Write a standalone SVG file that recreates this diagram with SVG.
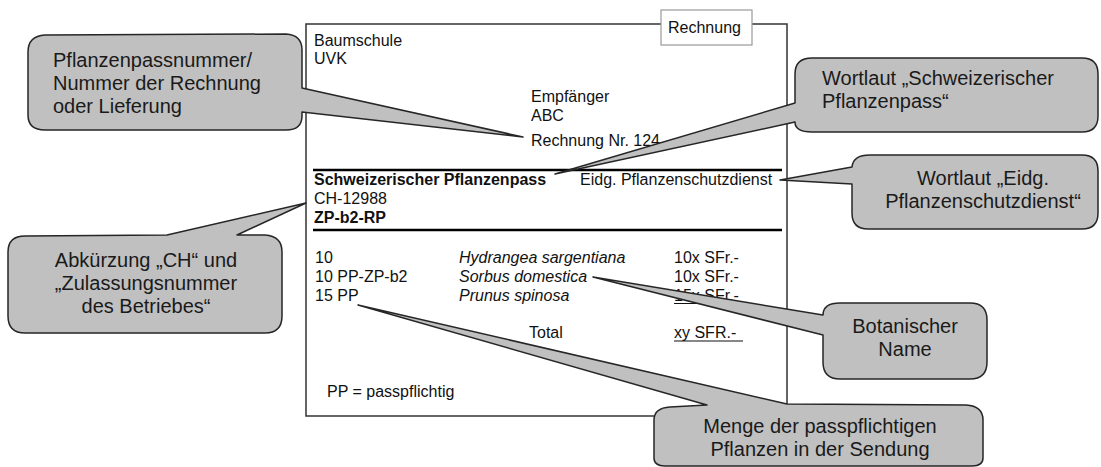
<svg xmlns="http://www.w3.org/2000/svg" width="1101" height="467" viewBox="0 0 1101 467">
<style>
text{font-family:"Liberation Sans",Arial,sans-serif;fill:#111}
.d{font-size:16px}
.b{font-weight:bold}
.i{font-style:italic}
.bt{font-size:20px;fill:#1a1a1a}
.c{text-anchor:middle}
.bub{fill:#c0c0c0;stroke:#262626;stroke-width:1.5;stroke-linejoin:round}
.rule{stroke:#000;stroke-width:2.5}
.ul{stroke:#111;stroke-width:1.2}
</style>
<rect width="1101" height="467" fill="#fff"/>
<g id="document">
<rect x="306" y="24" width="481" height="392" fill="#fff" stroke="#333" stroke-width="1.5"/>
<g id="label-rechnung">
<rect x="661" y="10" width="91" height="35" fill="#fff" stroke="#999" stroke-width="1.2"/>
<text class="d" x="668" y="33">Rechnung</text>
</g>
<text class="d" x="314" y="46">Baumschule</text>
<text class="d" x="314" y="64">UVK</text>
<text class="d" x="531" y="102">Empfänger</text>
<text class="d" x="531" y="121">ABC</text>
<text class="d" x="531" y="146">Rechnung Nr. 124</text>
<line class="rule" x1="313" y1="170" x2="782" y2="170"/>
<text class="d b" x="314" y="185">Schweizerischer Pflanzenpass</text>
<text class="d" x="580" y="185">Eidg. Pflanzenschutzdienst</text>
<text class="d" x="314" y="204">CH-12988</text>
<text class="d b" x="314" y="223">ZP-b2-RP</text>
<line class="rule" x1="313" y1="230" x2="782" y2="230"/>
<text class="d" x="315" y="263">10</text>
<text class="d" x="315" y="282">10 PP-ZP-b2</text>
<text class="d" x="315" y="301">15 PP</text>
<text class="d i" x="459" y="263">Hydrangea sargentiana</text>
<text class="d i" x="459" y="282">Sorbus domestica</text>
<text class="d i" x="459" y="301">Prunus spinosa</text>
<text class="d" x="674" y="263">10x SFr.-</text>
<text class="d" x="674" y="282">10x SFr.-</text>
<text class="d" x="674" y="301">15x SFr.-</text>
<line class="ul" x1="674" y1="303.5" x2="743" y2="303.5"/>
<text class="d" x="529" y="338">Total</text>
<text class="d" x="674" y="338">xy SFR.-</text>
<line class="ul" x1="674" y1="341" x2="743" y2="341"/>
<text class="d" x="327" y="397">PP = passpflichtig</text>
</g>
<g id="callout-passnummer">
<path class="bub" d="M45,35 L286,34 Q302,35 302,50 L302,88 L523,137 L302,112 L302,116 Q302,130 286,130 L45,130 Q28,130 28,115 L28,52 Q28,36 45,35 Z"/>
<text class="bt" x="53" y="67">Pflanzenpassnummer/</text>
<text class="bt" x="53" y="90">Nummer der Rechnung</text>
<text class="bt" x="53" y="113">oder Lieferung</text>
</g>
<g id="callout-wortlaut-pass">
<path class="bub" d="M812,58 L1082,58 Q1098,58 1098,74 L1098,116 Q1098,132 1082,132 L812,132 Q795,132 795,122 L555,174 L795,103 L795,74 Q795,58 812,58 Z"/>
<text class="bt" x="822" y="85">Wortlaut „Schweizerischer</text>
<text class="bt" x="822" y="108">Pflanzenpass“</text>
</g>
<g id="callout-wortlaut-eidg">
<path class="bub" d="M870,155 L1082,155 Q1098,155 1098,171 L1098,213 Q1098,229 1082,229 L868,229 Q852,229 852,213 L852,184 L780,180 L852,167 Q853,155 870,155 Z"/>
<text class="bt c" x="983" y="185">Wortlaut „Eidg.</text>
<text class="bt c" x="983" y="208">Pflanzenschutzdienst“</text>
</g>
<g id="callout-abkuerzung">
<path class="bub" d="M25,236 L167,235 L306,203 L237,235 L265,235 Q282,236 282,252 L282,316 Q282,333 265,333 L25,333 Q8,333 8,316 L8,252 Q8,236 25,236 Z"/>
<text class="bt c" x="146" y="267">Abkürzung „CH“ und</text>
<text class="bt c" x="146" y="290">„Zulassungsnummer</text>
<text class="bt c" x="146" y="313">des Betriebes“</text>
</g>
<g id="callout-botanisch">
<path class="bub" d="M840,303 L970,303 Q987,303 987,320 L987,362 Q987,379 970,379 L840,379 Q823,379 823,362 L823,335 L593,277 L823,315 Q823,303 840,303 Z"/>
<text class="bt c" x="905" y="333">Botanischer</text>
<text class="bt c" x="905" y="356">Name</text>
</g>
<g id="callout-menge">
<path class="bub" d="M670,407 L707,405 L358,305 L787,404 L966,405 Q983,406 983,420 L983,458 Q983,466 972,466 L665,466 Q654,466 654,458 L654,420 Q654,408 670,407 Z"/>
<text class="bt c" x="820" y="433">Menge der passpflichtigen</text>
<text class="bt c" x="820" y="456">Pflanzen in der Sendung</text>
</g>
</svg>
